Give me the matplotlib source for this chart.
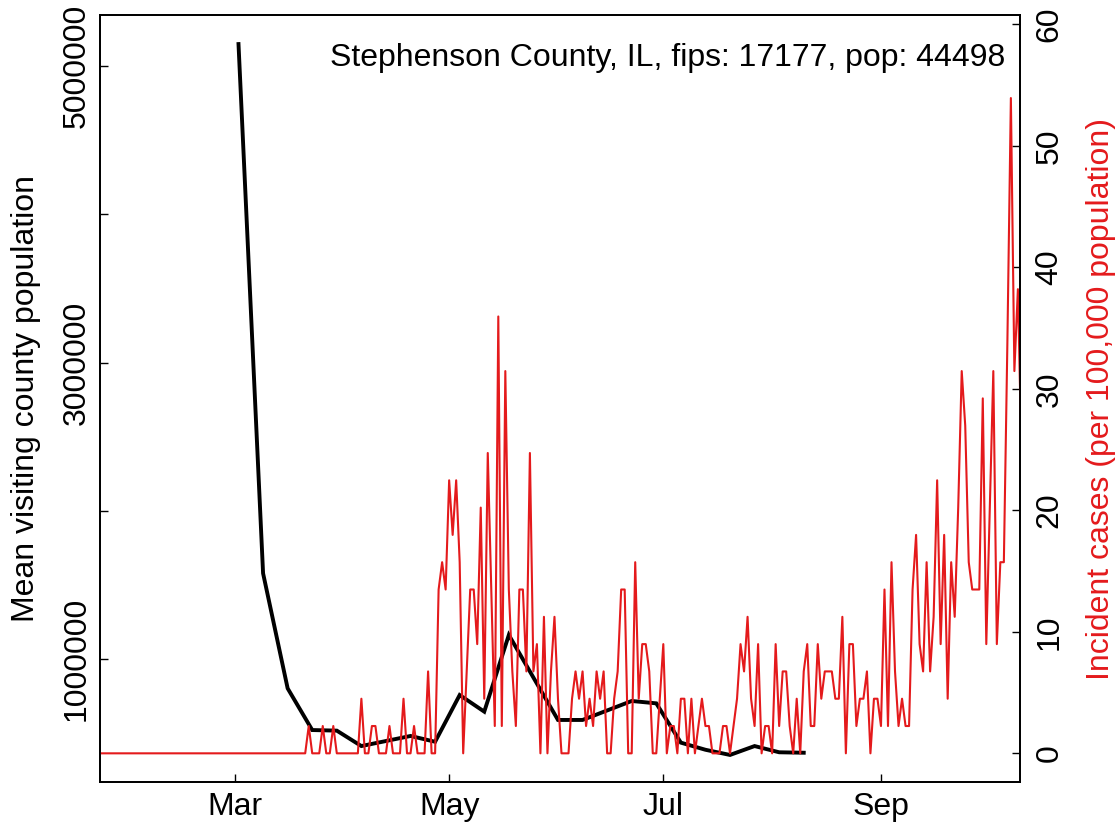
import numpy as np
import matplotlib
matplotlib.use("Agg")
import matplotlib.pyplot as plt
import matplotlib.dates as mdates

# county info shown in the top-right corner
county = "Stephenson County, IL, fips: 17177, pop: 44498"
pop = 44498

# weekly mean visiting county population (black line), starting Mon 2020-03-02
visit_start = "2020-03-02"
visit_pop = [5149000, 1580000, 804000, 523000, 519000, 415000, 449000, 483000,
             444000, 759000, 647000, 1164000, 877000, 591000, 591000, 655000,
             719000, 703000, 438000, 390000, 355000, 415000, 373000, 370000]

# daily new cases (red line), starting 2020-01-22
case_start = "2020-01-22"
daily_cases = [0] * 60 + [
    1, 0, 0, 0, 1, 0, 0, 1, 0, 0, 0, 0, 0, 0, 0, 2, 0, 0, 1, 1,   # d60-79
    0, 0, 0, 1, 0, 0, 0, 2, 0, 0, 1, 0, 0, 0, 3, 0, 0, 6, 7, 6,   # d80-99
    10, 8, 10, 7, 0, 3, 6, 6, 4, 9, 2, 11, 6, 1, 16, 1, 14, 6, 3, 1,  # d100-119
    6, 6, 3, 11, 3, 4, 0, 5, 0, 3, 5, 2, 0, 0, 0, 2, 3, 2, 3, 1,   # d120-139
    2, 1, 3, 2, 3, 0, 0, 2, 3, 6, 6, 0, 0, 7, 2, 4, 4, 3, 0, 0,   # d140-159
    2, 4, 0, 1, 1, 0, 2, 2, 0, 2, 0, 1, 2, 1, 1, 0, 0, 0, 1, 1,   # d160-179
    0, 1, 2, 4, 3, 5, 2, 1, 4, 0, 1, 1, 0, 4, 1, 3, 3, 1, 0, 2,   # d180-199
    0, 3, 4, 1, 1, 4, 2, 3, 3, 3, 2, 2, 5, 0, 4, 4, 1, 2, 2, 3,   # d200-219
    0, 2, 2, 1, 6, 1, 7, 3, 1, 2, 1, 1, 6, 8, 4, 3, 7, 3, 5, 10,  # d220-239
    4, 8, 2, 7, 5, 9, 14, 12, 7, 6, 6, 6, 13, 4, 9, 14, 4, 7, 7, 15,  # d240-259
    24, 14, 17, 11]                                               # d260-263

month_ticks = ["2020-03-01", "2020-05-01", "2020-07-01", "2020-09-01"]
month_labels = ["Mar", "May", "Jul", "Sep"]
left_ticks = [1000000, 2000000, 3000000, 4000000, 5000000]
left_labels = ["1000000", "", "3000000", "", "5000000"]
right_ticks = [0, 10, 20, 30, 40, 50, 60]

visit_dates = np.datetime64(visit_start) + np.arange(len(visit_pop)) * 7
case_dates = np.datetime64(case_start) + np.arange(len(daily_cases))
incidence = np.array(daily_cases) * 100000 / pop

red = "#E41A1C"
plt.rcParams["font.family"] = ["Liberation Sans", "DejaVu Sans"]

W, H = 1119, 826
fig = plt.figure(figsize=(W / 100, H / 100), dpi=100)
ax = fig.add_axes([100 / W, 44 / H, 920 / W, 767 / H])
ax2 = ax.twinx()

ax.plot(visit_dates, visit_pop, color="black", lw=2.8, solid_joinstyle="miter")
ax2.plot(case_dates, incidence, color=red, lw=1.5)

ax.set_xlim(mdates.date2num(np.datetime64("2020-01-22T13:12")),
            mdates.date2num(np.datetime64("2020-10-10T14:24")))
ax.set_ylim(172600, 5345000)
ax2.set_ylim(-2.36, 60.77)

ax.set_xticks(mdates.date2num(np.array(month_ticks, dtype="datetime64[D]")))
ax.set_xticklabels(month_labels)
ax.set_yticks(left_ticks)
ax.set_yticklabels(left_labels, rotation=90, va="center")
ax2.set_yticks(right_ticks)
ax2.set_yticklabels([str(t) for t in right_ticks], rotation=90, va="center")

ax.tick_params(axis="x", direction="in", length=5.5, width=1, labelsize=23, pad=7.4)
ax.tick_params(axis="y", direction="in", length=5.5, width=1, labelsize=23, pad=6)
ax2.tick_params(axis="y", direction="in", length=5.5, width=1, labelsize=23, pad=10.4)

for a in (ax, ax2):
    for s in a.spines.values():
        s.set_linewidth(1.3)

fig.text(26.5 / W, 1 - 398.5 / H, "Mean visiting county population",
         rotation=90, ha="center", va="center", fontsize=23)
fig.text(1101 / W, 1 - 398.5 / H, "Incident cases (per 100,000 population)",
         rotation=90, ha="center", va="center", fontsize=23, color=red)
fig.text(1005 / W, 1 - 66 / H, county, ha="right", va="baseline", fontsize=23)

fig.savefig("out.png", dpi=100)
